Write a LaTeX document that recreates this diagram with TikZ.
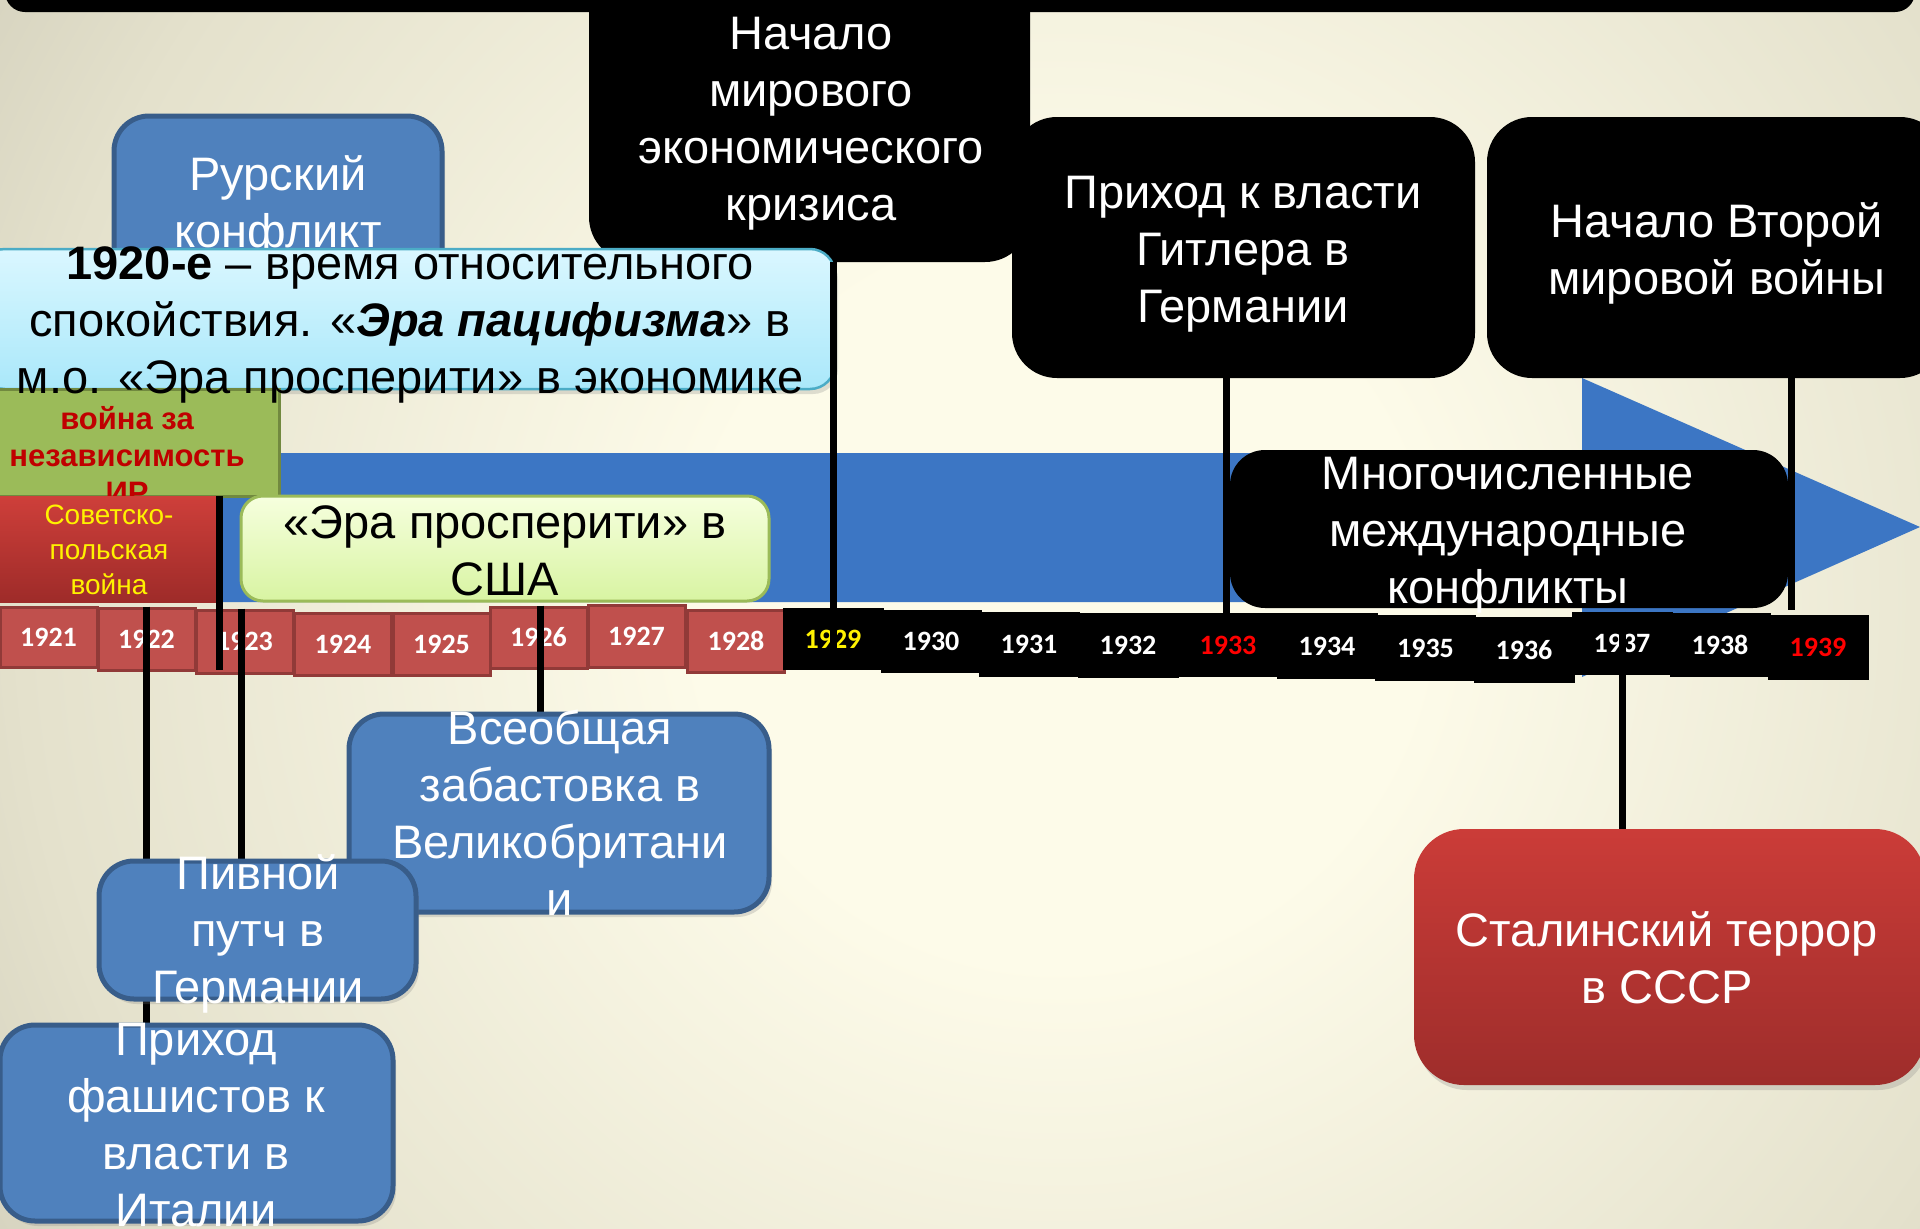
\documentclass[tikz,border=0pt]{standalone}
\usepackage{fontspec}
\setmainfont{Liberation Sans}
\newfontfamily\yearfont{Carlito}
\usetikzlibrary{shadows}
\definecolor{bgA}{RGB}{253,251,233}
\definecolor{bgB}{RGB}{228,225,204}
\definecolor{bgC}{RGB}{186,183,165}
\definecolor{bgE}{RGB}{155,153,138}
\definecolor{bgD}{RGB}{125,123,110}
\definecolor{arrowblue}{RGB}{60,118,196}
\definecolor{boxblue}{RGB}{79,129,189}
\definecolor{boxblueborder}{RGB}{56,93,138}
\definecolor{yearred}{RGB}{192,80,77}
\definecolor{yearredborder}{RGB}{145,58,56}
\definecolor{cyantop}{RGB}{218,247,255}
\definecolor{cyanbot}{RGB}{170,232,250}
\definecolor{cyanborder}{RGB}{75,172,198}
\definecolor{prosptop}{RGB}{246,255,222}
\definecolor{prospbot}{RGB}{216,244,162}
\definecolor{prospborder}{RGB}{155,187,89}
\definecolor{indepgreen}{RGB}{155,187,89}
\definecolor{indepborder}{RGB}{113,137,63}
\definecolor{darkred}{RGB}{192,0,0}
\definecolor{redtop}{RGB}{206,63,58}
\definecolor{redbot}{RGB}{158,43,41}
\definecolor{stalintop}{RGB}{203,60,56}
\definecolor{stalinbot}{RGB}{158,45,43}
\pgfdeclareradialshading{bgshade}{\pgfpointorigin}{color(0bp)=(bgA); color(7bp)=(bgA); color(20bp)=(bgB); color(32bp)=(bgC); color(42bp)=(bgE); color(50bp)=(bgD)}
\begin{document}
\begin{tikzpicture}[x=1pt,y=-1pt,
  softshadow/.style={drop shadow={opacity=0.25,shadow xshift=3pt,shadow yshift=-5pt}},
  blackbox/.style={fill=black,draw=none,rounded corners=45pt,inner sep=0pt},
  bluebox/.style={fill=boxblue,draw=boxblueborder,line width=5pt,rounded corners=35pt,inner sep=0pt,softshadow},
  txt/.style={align=center,inner sep=0pt,font=\fontsize{47}{57}\selectfont},
  yred/.style={fill=yearred,draw=yearredborder,line width=3pt,minimum width=97pt,inner sep=0pt,font=\yearfont\bfseries\fontsize{28}{30}\selectfont},
  yblack/.style={fill=black,draw=none,minimum width=101pt,inner sep=0pt,font=\yearfont\bfseries\fontsize{28}{30}\selectfont},
  conn/.style={line width=7pt,black}]
\useasboundingbox (0,0) rectangle (1920,1229);
\clip (0,0) rectangle (1920,1229);
% background
\fill[bgD] (0,0) rectangle (1920,1229);
\shade[shading=bgshade] (1060,600) circle (1300);
% top bar
\fill[black,rounded corners=20pt] (5,-60) rectangle (1915,12);
% timeline arrow
\fill[arrowblue] (200,453) -- (1582,453) -- (1582,378) -- (1920,527) -- (1582,677) -- (1582,602) -- (200,602) -- cycle;
% upper boxes
\node[bluebox,minimum width=328pt,minimum height=184pt] (ruhr) at (278,208) {};
\node[txt,text=white] (truhr) at (278,206) {Рурский\\конфликт};
\node[blackbox,minimum width=441pt,minimum height=302pt] (crisis) at (809.5,111) {};
\node[txt,text=white] (tcrisis) at (811,124) {Начало\\мирового\\экономического\\кризиса};
\node[blackbox,minimum width=463pt,minimum height=261pt] (hitler) at (1243.5,247.5) {};
\node[txt,text=white] (thitler) at (1243,254) {Приход к власти\\Гитлера в\\Германии};
\node[blackbox,minimum width=458pt,minimum height=261pt] (ww2) at (1716,247.5) {};
\node[txt,text=white] (tww2) at (1717,253) {Начало Второй\\мировой войны};
% connector behind cyan box edge
\draw[conn] (crisis.south -| 833,0) -- (833,670) coordinate (c29);
% cyan box
\node[fill=cyantop,top color=cyantop,bottom color=cyanbot,draw=cyanborder,line width=2.5pt,rounded corners=25pt,inner sep=0pt,minimum width=855pt,minimum height=140pt,softshadow] (era) at (407.5,319) {};
% green box
\node[fill=indepgreen,draw=indepborder,line width=3pt,inner sep=0pt,minimum width=289pt,minimum height=107pt] (indep) at (134.5,442.5) {};
\node[txt,text=darkred,font=\bfseries\fontsize{31}{37}\selectfont] (tindep) at (127,455) {война за\\независимость\\ИР};
% cyan box text (over the green box)
\node[txt,text=black] (tera) at (410,325) {\textbf{1920-е} – время относительного\\спокойствия. «\textbf{\textit{Эра пацифизма}}» в\\м.о. «Эра просперити» в экономике};
% red box
\node[top color=redtop,bottom color=redbot,draw=none,inner sep=0pt,minimum width=230pt,minimum height=106pt] (sovpol) at (105,549) {};
\node[txt,text=yellow,font=\fontsize{28}{35}\selectfont] (tsovpol) at (109,550) {Советско-\\польская\\война};
% prosperity box
\node[top color=prosptop,bottom color=prospbot,draw=prospborder,line width=3pt,rounded corners=22pt,inner sep=0pt,minimum width=528pt,minimum height=105pt] (prosp) at (505,548.5) {};
\node[txt,text=black] (tprosp) at (505,551) {«Эра просперити» в\\США};
% years
\foreach \yr/\cx/\cy/\hh/\st/\tc in {
  1921/48.5/637/60/yred/white, 1922/146.5/639/62/yred/white, 1923/244.5/641.5/63/yred/white,
  1924/343/644/62/yred/white, 1925/441.5/644/62/yred/white, 1926/538.5/637.5/61/yred/white,
  1927/636.5/636/62/yred/white, 1928/736/641/62/yred/white, 1929/833/639/62/yblack/yellow,
  1930/931/641.5/63/yblack/white, 1931/1029/644.5/65/yblack/white, 1932/1128/645.5/65/yblack/white,
  1933/1228/645/64/yblack/red, 1934/1327/646/66/yblack/white, 1935/1425.5/648/66/yblack/white,
  1936/1524/650/66/yblack/white, 1937/1622/643.5/63/yblack/white, 1938/1720/645/64/yblack/white,
  1939/1818/647.5/65/yblack/red}
  \node[\st,text=\tc,minimum height=\hh pt] (y\yr) at (\cx,\cy) {\yr};
% connectors
\draw[conn] (crisis.south -| y1929.center) -- (y1929.south);
\draw[conn] ([xshift=-1pt]sovpol.north east) -- ([xshift=-1pt]sovpol.north east |- y1926.south);
\draw[conn] (y1922.north) -- (y1922.north |- 0,1025);
\draw[conn] ([xshift=-3pt]y1923.north) -- ([xshift=-3pt]y1923.north |- 0,861);
\draw[conn] ([xshift=2pt]y1926.north) -- ([xshift=2pt]y1926.north |- 0,714);
\draw[conn] ([xshift=-2pt]hitler.south -| y1933.center) -- ([xshift=-2pt]y1933.north);
\draw[conn] (ww2.south -| 1791,0) -- (1791,610);
\draw[conn] (y1937.north) -- (y1937.north |- 0,829);
% conflicts box
\node[blackbox,rounded corners=35pt,minimum width=558pt,minimum height=158pt] (conflicts) at (1509,529) {};
\node[txt,text=white] (tconflicts) at (1508,535) {Многочисленные\\международные\\конфликты};
% lower boxes
\node[bluebox,minimum width=420pt,minimum height=198pt] (strike) at (559,813) {};
\node[txt,text=white] (tstrike) at (560,813) {Всеобщая\\забастовка в\\Великобритани\\и};
\node[bluebox,minimum width=317pt,minimum height=138pt] (putsch) at (257.5,930) {};
\node[txt,text=white] (tputsch) at (258,934) {Пивной\\путч в\\Германии};
\node[bluebox,minimum width=393pt,minimum height=196pt] (fascist) at (196.5,1123) {};
\node[txt,text=white] (tfascist) at (196,1125) {Приход\\фашистов к\\власти в\\Италии};
\node[top color=stalintop,bottom color=stalinbot,draw=none,rounded corners=50pt,inner sep=0pt,minimum width=511pt,minimum height=256pt,softshadow] (stalin) at (1669.5,957) {};
\node[txt,text=white] (tstalin) at (1667,958) {Сталинский террор\\в СССР};
\end{tikzpicture}
\end{document}
